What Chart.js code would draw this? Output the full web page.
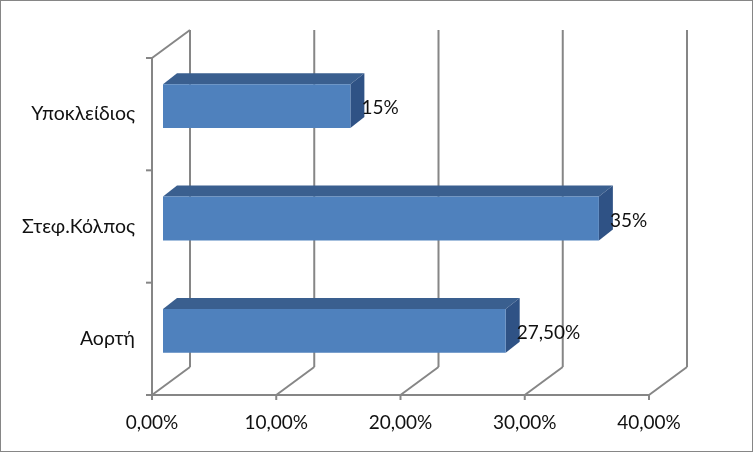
<!DOCTYPE html>
<html><head><meta charset="utf-8">
<style>html,body{margin:0;padding:0;background:#fff}canvas{display:block}</style>
<script src="https://cdn.jsdelivr.net/npm/chart.js@4"></script>
</head><body><canvas id="c" width="753" height="452"></canvas>
<script>
const categories = ['Υποκλείδιος', 'Στεφ.Κόλπος', 'Αορτή'];
const values = [15, 35, 27.5];
const valueLabels = ['15%', '35%', '27,50%'];
const xTicks = ['0,00%', '10,00%', '20,00%', '30,00%', '40,00%'];

const FONT = 'Lato, "Open Sans", "Noto Sans", sans-serif';
const GREY = '#868686';
const wall = {dx: 38, dy: -28};
const shift = {dx: 12, dy: -8};
const depth = {dx: 14, dy: -11};

function line(ctx, x1, y1, x2, y2) {
  ctx.beginPath(); ctx.moveTo(x1, y1); ctx.lineTo(x2, y2); ctx.stroke();
}
function poly(ctx, pts, fill) {
  ctx.fillStyle = fill; ctx.beginPath();
  pts.forEach((p, i) => i ? ctx.lineTo(p[0], p[1]) : ctx.moveTo(p[0], p[1]));
  ctx.closePath(); ctx.fill();
}

const frame3d = {
  id: 'frame3d',
  beforeDatasetsDraw(chart) {
    const {ctx, scales: {x, y}} = chart;
    const L = x.left, B = y.bottom, T = y.top;
    ctx.save();
    ctx.strokeStyle = GREY; ctx.lineWidth = 2;
    x.ticks.forEach((t, i) => {
      const px = x.getPixelForTick(i);
      line(ctx, px + wall.dx, T + wall.dy, px + wall.dx, B + wall.dy);
      line(ctx, px, B, px + wall.dx, B + wall.dy);
      line(ctx, px, B, px, B + 5);
    });
    line(ctx, L, T, L + wall.dx, T + wall.dy);
    line(ctx, L, T, L, B);
    line(ctx, L - 6, B, x.right, B);
    for (let i = 0; i <= categories.length; i++) {
      const py = T + (B - T) * i / categories.length;
      line(ctx, L - 6, py, L, py);
    }
    ctx.restore();
    ctx.save();
    ctx.translate(shift.dx, shift.dy);
    chart.getDatasetMeta(0).data.forEach(b => {
      const h = b.height / 2, x0 = b.base, x1 = b.x, t = b.y - h, bt = b.y + h;
      poly(ctx, [[x0, t], [x1, t], [x1 + depth.dx, t + depth.dy], [x0 + depth.dx, t + depth.dy]], '#3A5F8F');
      poly(ctx, [[x1, t], [x1 + depth.dx, t + depth.dy], [x1 + depth.dx, bt + depth.dy], [x1, bt]], '#2F5285');
    });
  },
  afterDatasetsDraw(chart) {
    const {ctx} = chart;
    ctx.restore();
    ctx.save();
    ctx.fillStyle = '#111';
    ctx.font = '19px ' + FONT;
    ctx.textAlign = 'left'; ctx.textBaseline = 'middle';
    chart.getDatasetMeta(0).data.forEach((b, i) => {
      ctx.fillText(valueLabels[i], b.x + 23, b.y - 6);
    });
    ctx.restore();
    ctx.save();
    ctx.strokeStyle = GREY; ctx.lineWidth = 2;
    ctx.strokeRect(0, 0, chart.width, chart.height);
    ctx.restore();
  }
};

new Chart(document.getElementById('c'), {
  type: 'bar',
  data: {labels: categories, datasets: [{
    data: values, backgroundColor: '#4F81BD', borderWidth: 0,
    categoryPercentage: 1, barPercentage: 0.39, base: -0.08, clip: false
  }]},
  plugins: [frame3d],
  options: {
    indexAxis: 'y', responsive: false, animation: false, devicePixelRatio: 1,
    layout: {padding: {top: 58, right: 104, left: 0, bottom: 0}},
    plugins: {legend: {display: false}, tooltip: {enabled: false}},
    scales: {
      x: {
        min: 0, max: 40,
        grid: {display: false}, border: {display: false},
        afterFit(s) { s.height = 57; },
        ticks: {stepSize: 10, maxRotation: 0, padding: 8, color: '#111',
          font: {family: FONT, size: 19},
          callback: (v, i) => xTicks[i]}
      },
      y: {
        grid: {display: false}, border: {display: false},
        afterFit(s) { s.width = 152; },
        ticks: {padding: 9, color: '#111', font: {family: FONT, size: 19.5}}
      }
    }
  }
});
</script></body></html>
